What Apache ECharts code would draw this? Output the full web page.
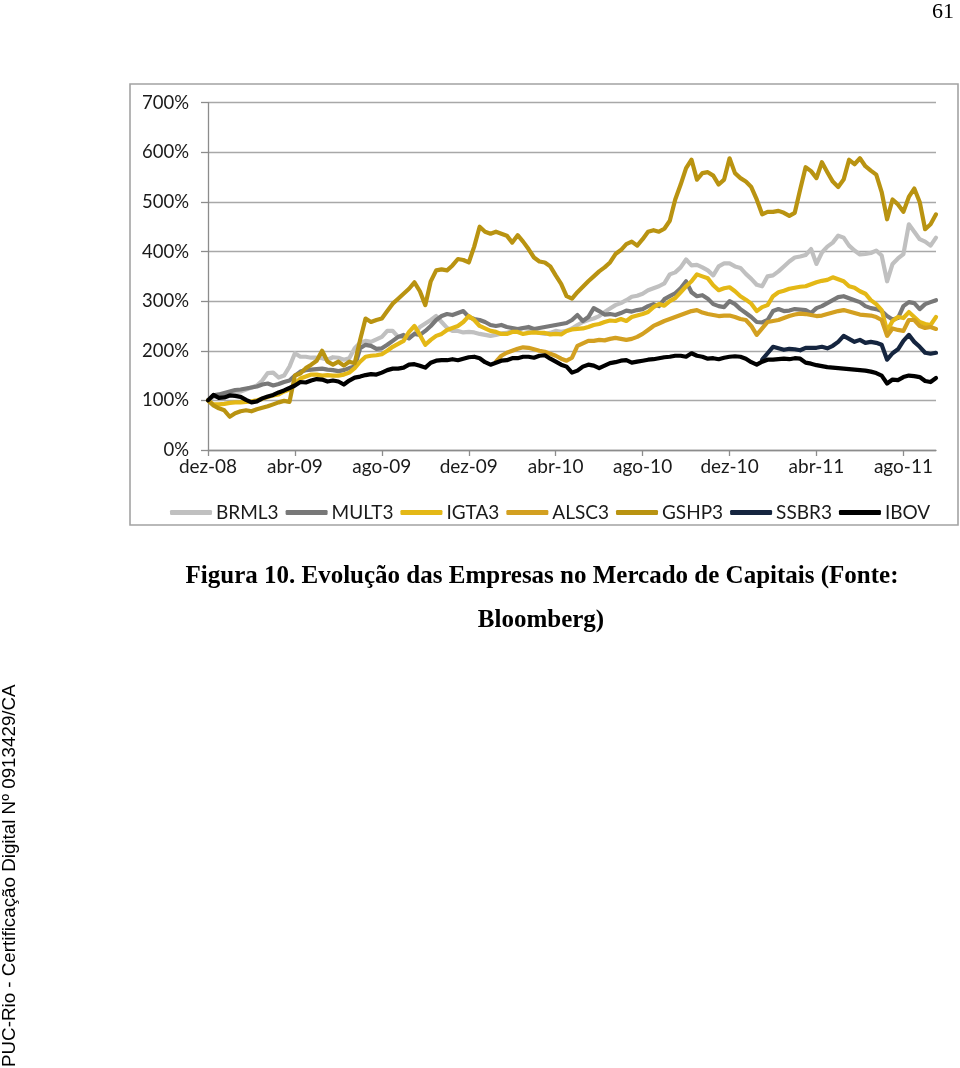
<!DOCTYPE html>
<html>
<head>
<meta charset="utf-8">
<script src="https://cdn.jsdelivr.net/npm/echarts@6/dist/echarts.min.js"></script>
<style>
html,body{margin:0;padding:0;background:#fff;}
#chart{width:960px;height:1068px;}
</style>
</head>
<body>
<div id="chart"></div>
<script>
// Month labels (each month sampled in 4 steps)
const monthLabels = ['dez-08','jan-09','fev-09','mar-09','abr-09','mai-09','jun-09','jul-09','ago-09','set-09','out-09','nov-09',
  'dez-09','jan-10','fev-10','mar-10','abr-10','mai-10','jun-10','jul-10','ago-10','set-10','out-10','nov-10',
  'dez-10','jan-11','fev-11','mar-11','abr-11','mai-11','jun-11','jul-11','ago-11','set-11'];
const tickLabels = ['dez-08','abr-09','ago-09','dez-09','abr-10','ago-10','dez-10','abr-11','ago-11'];
const seriesNames = ['BRML3','MULT3','IGTA3','ALSC3','GSHP3','SSBR3','IBOV'];
const yTicks = [0,100,200,300,400,500,600,700];

const BRML3 = [100,107,110,112,114,116,118,122,126,130,
140,155,156,146,150,168,195,188,188,186,
186,185,182,187,186,182,185,205,216,220,
218,223,228,240,240,228,228,226,234,248,
255,262,270,258,246,240,240,237,238,237,
234,232,230,232,235,236,240,242,246,244,
240,236,234,236,240,238,240,245,252,258,
262,265,270,278,285,292,296,302,309,311,
315,322,326,330,336,354,358,368,384,372,
373,368,362,352,370,376,376,370,367,355,
345,333,330,350,352,360,370,380,388,390,
393,405,375,398,410,418,432,428,412,402,
394,395,397,402,392,340,375,386,395,455,
440,425,420,412,428];
const MULT3 = [100,110,112,115,118,121,122,124,126,128,
132,134,130,133,137,140,150,158,161,162,
163,164,162,161,159,161,165,168,205,212,
210,204,205,212,220,228,232,225,234,232,
240,250,262,270,274,272,276,280,268,264,
262,258,252,250,252,248,246,244,246,248,
244,246,248,250,252,254,256,262,272,260,
268,286,280,273,274,272,276,281,279,282,
284,290,294,290,304,310,316,326,340,318,
310,312,305,294,290,288,300,294,284,276,
268,258,257,262,280,284,280,281,284,283,
282,276,286,290,296,302,308,310,306,302,
298,290,286,284,280,270,263,266,290,298,
296,284,294,298,302];
const IGTA3 = [100,92,92,93,95,96,96,97,98,100,
103,107,110,112,118,122,134,144,148,152,
152,150,151,150,150,152,156,165,178,188,
190,191,193,200,208,214,220,238,250,232,
212,222,230,234,242,246,250,258,270,262,
250,245,240,238,234,234,238,238,234,236,
237,236,236,233,234,233,240,243,244,245,
248,252,254,258,261,260,264,260,268,271,
274,278,288,294,291,300,306,318,330,340,
354,350,346,332,322,326,328,320,310,303,
295,280,288,292,310,318,321,325,327,329,
330,334,338,341,343,348,344,340,330,327,
320,315,302,294,282,240,260,268,266,278,
268,258,254,252,268];
// ALSC3 listed from its first quote (step index 53)
const ALSC3_START = 53;
const ALSC3 = [178,190,196,200,204,207,206,
203,200,198,194,190,184,180,186,210,215,
220,220,222,221,224,226,224,222,224,228,
234,242,250,255,260,264,268,272,276,280,
282,277,274,272,270,271,271,268,264,262,
250,232,245,258,260,262,266,270,273,275,
274,272,270,271,274,277,280,282,279,276,
273,272,271,268,262,230,245,242,240,262,
262,250,246,248,244];
const GSHP3 = [100,90,84,80,67,74,78,80,78,82,
85,88,92,96,99,97,150,154,165,172,
180,200,178,172,178,170,178,175,222,265,
258,262,265,280,295,305,315,325,338,320,
292,340,362,364,362,372,385,383,378,410,
450,440,436,440,436,432,418,433,420,405,
388,380,378,370,352,335,310,305,318,329,
340,350,360,368,378,395,403,415,420,412,
425,440,443,440,446,462,505,535,568,585,
545,558,560,553,535,545,588,558,548,541,
530,505,475,480,480,482,478,472,478,525,
570,562,548,580,560,541,530,545,585,576,
588,572,563,555,520,465,505,495,480,510,
527,500,445,455,475];
// SSBR3 listed from its first quote (step index 102)
const SSBR3_START = 102;
const SSBR3 = [182,195,208,205,202,204,203,201,
206,206,206,208,205,210,218,230,224,218,
222,216,218,216,212,182,195,203,220,232,
218,208,196,194,196];
const IBOV = [100,111,105,106,110,109,107,101,96,98,
104,108,111,116,120,125,130,137,136,140,
143,142,138,140,138,132,140,146,148,151,
153,152,156,161,164,164,166,172,173,170,
166,176,180,181,181,183,181,184,187,188,
185,177,172,176,180,181,185,185,188,188,
186,190,191,184,178,172,168,156,160,168,
172,170,165,170,175,177,180,181,176,178,
180,182,183,185,187,188,190,190,188,195,
190,188,184,185,183,186,188,189,188,184,
177,172,178,182,182,183,184,183,185,184,
176,174,171,169,167,166,165,164,163,162,
161,160,158,155,150,134,142,141,147,150,
149,147,139,137,145];

const colors = {
  BRML3:'#c0c0c0', MULT3:'#787878', IGTA3:'#e4b816', ALSC3:'#d3a021',
  GSHP3:'#b99311', SSBR3:'#15253f', IBOV:'#000000'
};

const caption1 = 'Figura 10. Evolução das Empresas no Mercado de Capitais (Fonte:';
const caption2 = 'Bloomberg)';
const sideNote = 'PUC-Rio - Certificação Digital Nº 0913429/CA';

// build category axis (4 steps per month)
const nSteps = IBOV.length;
const categories = [];
for (let k = 0; k < nSteps; k++) {
  categories.push(monthLabels[Math.floor(k / 4)] + ' #' + (k % 4 + 1));
}
function pad(start, arr) {
  return new Array(start).fill(null).concat(arr);
}
const dataMap = {
  BRML3: BRML3, MULT3: MULT3, IGTA3: IGTA3,
  ALSC3: pad(ALSC3_START, ALSC3), GSHP3: GSHP3,
  SSBR3: pad(SSBR3_START, SSBR3), IBOV: IBOV
};

const capFont = 'bold 25px "Liberation Serif", serif';
const FONT = 'Lato, "Open Sans", sans-serif';
const chart = echarts.init(document.getElementById('chart'), null, {renderer:'canvas'});
const option = {
  backgroundColor: '#ffffff',
  animation: false,
  grid: { left: 208, right: 24, top: 102.7, bottom: 618, containLabel: false },
  legend: {
    data: seriesNames.map(n => ({ name: n, icon: 'roundRect' })),
    left: 165, top: 498,
    itemWidth: 42, itemHeight: 5, itemGap: 7,
    textStyle: { fontFamily: FONT, fontSize: 19, color: '#1a1a1a', padding: [0,0,0,-1] }
  },
  xAxis: {
    type: 'category',
    data: categories,
    boundaryGap: false,
    axisLine: { lineStyle: { color: '#8c8c8c', width: 1.3 } },
    axisTick: {
      show: true, length: 6, lineStyle: { color: '#8c8c8c', width: 1.3 },
      interval: function (idx) { return idx % 16 === 0; }
    },
    axisLabel: {
      interval: function (idx) { return idx % 16 === 0; },
      formatter: function (v, idx) { return tickLabels[idx / 16] || ''; },
      fontFamily: FONT, fontSize: 19, color: '#1a1a1a', margin: 7
    },
    splitLine: { show: false }
  },
  yAxis: {
    type: 'value', min: yTicks[0], max: yTicks[yTicks.length - 1], interval: 100,
    axisLine: { show: true, lineStyle: { color: '#8c8c8c', width: 1.3 } },
    axisTick: { show: true, length: 7, lineStyle: { color: '#8c8c8c', width: 1.3 } },
    axisLabel: { formatter: '{value}%', fontFamily: FONT, fontSize: 18.5, color: '#1a1a1a', margin: 19 },
    splitLine: { show: true, lineStyle: { color: '#a8a8a8', width: 1.3 } }
  },
  series: seriesNames.map(n => ({
    name: n, type: 'line', data: dataMap[n], showSymbol: false, symbol: 'none',
    connectNulls: false,
    lineStyle: { color: colors[n], width: 4.2, join: 'round', cap: 'round' },
    itemStyle: { color: colors[n] },
    emphasis: { disabled: true }
  })),
  graphic: [
    { type: 'rect', shape: { x: 130, y: 84, width: 828, height: 441 },
      style: { fill: 'none', stroke: '#a3a3a3', lineWidth: 1.6 }, z: -1 },
    { type: 'text', x: 954, y: 23, style: { text: '61', font: '22px "Liberation Serif", serif',
      fill: '#000', align: 'right', verticalAlign: 'bottom' } },
    { type: 'text', x: 542, y: 577, style: { text: caption1,
      font: capFont, fill: '#000', align: 'center', verticalAlign: 'middle' } },
    { type: 'text', x: 541, y: 621, style: { text: caption2,
      font: capFont, fill: '#000', align: 'center', verticalAlign: 'middle' } },
    { type: 'text', x: 10, y: 1067, rotation: Math.PI / 2,
      style: { text: sideNote,
      font: '18.8px "Liberation Sans", Arial, sans-serif', fill: '#000', align: 'left', verticalAlign: 'middle' } }
  ]
};
chart.setOption(option);
</script>
</body>
</html>
